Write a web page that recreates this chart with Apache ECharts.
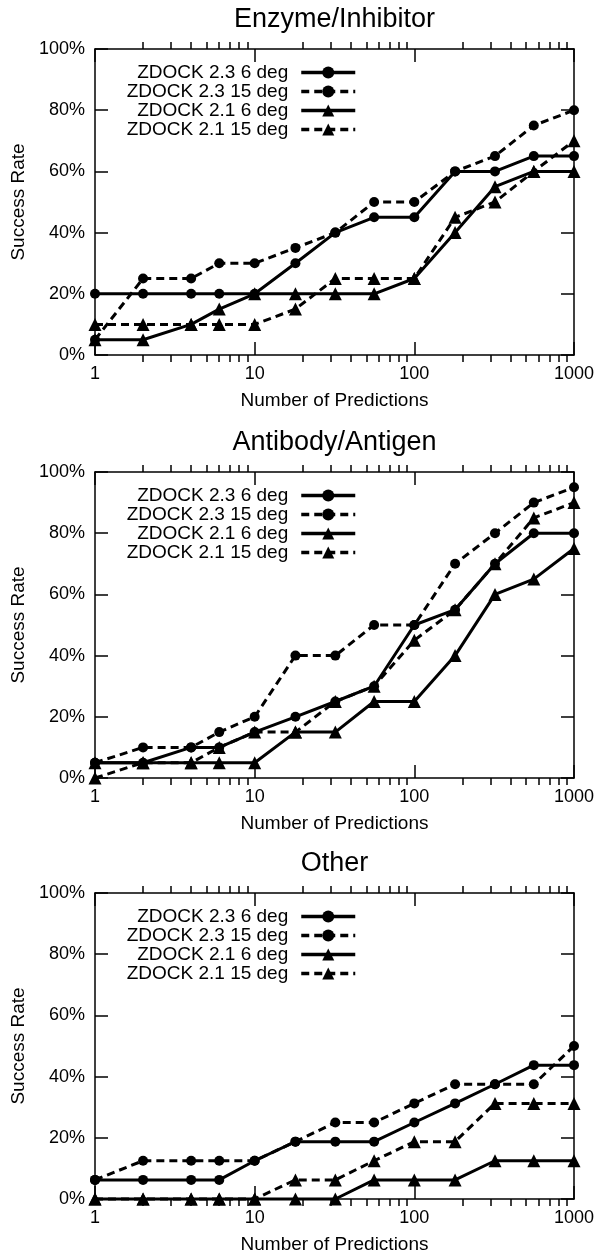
<!DOCTYPE html>
<html lang="en">
<head>
<meta charset="UTF-8">
<title>ZDOCK success rate by complex type</title>
<script src="https://cdn.jsdelivr.net/npm/echarts@6/dist/echarts.min.js"></script>
<style>
  body { margin: 0; background: #fff; }
  #chart { width: 598px; height: 1260px; }
</style>
</head>
<body>
<div id="chart"></div>
<script>
// number of predictions (log x axis)
const predictions = [1, 2, 4, 6, 10, 18, 32, 56, 100, 180, 320, 560, 1000];
const panelTitles = ['Enzyme/Inhibitor', 'Antibody/Antigen', 'Other'];
const seriesNames = ['ZDOCK 2.3 6 deg', 'ZDOCK 2.3 15 deg', 'ZDOCK 2.1 6 deg', 'ZDOCK 2.1 15 deg'];

// success rate (%) - Enzyme/Inhibitor
const enzZd23deg6 = [20, 20, 20, 20, 20, 30, 40, 45, 45, 60, 60, 65, 65];
const enzZd23deg15 = [5, 25, 25, 30, 30, 35, 40, 50, 50, 60, 65, 75, 80];
const enzZd21deg6 = [5, 5, 10, 15, 20, 20, 20, 20, 25, 40, 55, 60, 60];
const enzZd21deg15 = [10, 10, 10, 10, 10, 15, 25, 25, 25, 45, 50, 60, 70];

// Antibody/Antigen
const abZd23deg6 = [5, 5, 10, 10, 15, 20, 25, 30, 50, 55, 70, 80, 80];
const abZd23deg15 = [5, 10, 10, 15, 20, 40, 40, 50, 50, 70, 80, 90, 95];
const abZd21deg6 = [5, 5, 5, 5, 5, 15, 15, 25, 25, 40, 60, 65, 75];
const abZd21deg15 = [0, 5, 5, 10, 15, 15, 25, 30, 45, 55, 70, 85, 90];

// Other
const othZd23deg6 = [6.25, 6.25, 6.25, 6.25, 12.5, 18.75, 18.75, 18.75, 25, 31.25, 37.5, 43.75, 43.75];
const othZd23deg15 = [6.25, 12.5, 12.5, 12.5, 12.5, 18.75, 25, 25, 31.25, 37.5, 37.5, 37.5, 50];
const othZd21deg6 = [0, 0, 0, 0, 0, 0, 0, 6.25, 6.25, 6.25, 12.5, 12.5, 12.5];
const othZd21deg15 = [0, 0, 0, 0, 0, 6.25, 6.25, 12.5, 18.75, 18.75, 31.25, 31.25, 31.25];

const panelData = [
    [enzZd23deg6, enzZd23deg15, enzZd21deg6, enzZd21deg15],
    [abZd23deg6, abZd23deg15, abZd21deg6, abZd21deg15],
    [othZd23deg6, othZd23deg15, othZd21deg6, othZd21deg15]
];

const FONT = 'Liberation Sans, Arial, Helvetica, sans-serif';
const gridTops = [49, 472, 893];
const gridHeight = 306;
const gridLeft = 95;
const gridRight = 24;

const symbols = ['circle', 'circle', 'triangle', 'triangle'];
const symbolSizes = [10, 10, 13, 13];
const dashes = ['solid', [8, 5], 'solid', [8, 5]];

var chart = echarts.init(document.getElementById('chart'));

var grid = [], xAxis = [], yAxis = [], title = [], legend = [], series = [];

// major-tick log axis (no name, no minor ticks)
function logAxis(g, pos) {
    return {
        type: 'log', logBase: 10, min: 1, max: 1000, interval: 1,
        gridIndex: g, position: pos,
        axisLine: { show: true, onZero: false, lineStyle: { color: '#000', width: 1.5 } },
        axisTick: { show: true, inside: true, length: 13, lineStyle: { color: '#000', width: 1.5 } },
        axisLabel: {
            show: pos === 'bottom', fontFamily: FONT, fontSize: 18, color: '#000', margin: 10,
            formatter: function (v) { return String(Math.round(v)); }
        },
        splitLine: { show: false }
    };
}

// minor log ticks only (2..9 in each decade)
function minorLogAxis(g, pos) {
    return {
        type: 'log', logBase: 10, min: 1, max: 1000, interval: 1,
        gridIndex: g, position: pos,
        axisLine: { show: false, onZero: false },
        axisTick: { show: false },
        minorTick: { show: true, splitNumber: 9, length: 7, lineStyle: { color: '#000', width: 1.5 } },
        axisLabel: { show: false },
        splitLine: { show: false },
        minorSplitLine: { show: false }
    };
}

function pctAxis(g, pos) {
    return {
        type: 'value', min: 0, max: 100, interval: 20,
        gridIndex: g, position: pos,
        axisLine: { show: true, onZero: false, lineStyle: { color: '#000', width: 1.5 } },
        axisTick: { show: true, inside: true, length: 13, lineStyle: { color: '#000', width: 1.5 } },
        axisLabel: { show: pos === 'left', fontFamily: FONT, fontSize: 18, color: '#000', margin: 10, formatter: '{value}%' },
        splitLine: { show: false }
    };
}

function hiddenPctAxis(g) {
    return { type: 'value', min: 0, max: 100, gridIndex: g, show: false };
}

panelTitles.forEach(function (name, p) {
    var top = gridTops[p];
    var g = 5 * p;   // data grid: bottom + left axes
    for (var k = 0; k < 5; k++) {
        grid.push({ left: gridLeft, right: gridRight, top: top, height: gridHeight });
    }

    title.push({
        text: name,
        left: gridLeft + (598 - gridLeft - gridRight) / 2,
        textAlign: 'center',
        top: top - 43,
        padding: 0,
        textStyle: { fontFamily: FONT, fontSize: 27, fontWeight: 'normal', color: '#000' }
    });

    // g: labelled axes, g+1: mirrored top/right, g+2: axis names, g+3/g+4: minor ticks
    xAxis.push(logAxis(g, 'bottom'), logAxis(g + 1, 'top'));
    yAxis.push(pctAxis(g, 'left'), pctAxis(g + 1, 'right'));

    xAxis.push({
        type: 'log', logBase: 10, min: 1, max: 1000, gridIndex: g + 2, position: 'bottom',
        name: 'Number of Predictions', nameLocation: 'middle', nameGap: 36,
        nameTextStyle: { fontFamily: FONT, fontSize: 19, color: '#000' },
        axisLine: { show: false, onZero: false }, axisTick: { show: false },
        axisLabel: { show: false }, splitLine: { show: false }
    });
    yAxis.push({
        type: 'value', min: 0, max: 100, gridIndex: g + 2, position: 'left',
        name: 'Success Rate', nameLocation: 'middle', nameGap: 67,
        nameTextStyle: { fontFamily: FONT, fontSize: 19, color: '#000' },
        axisLine: { show: false, onZero: false }, axisTick: { show: false },
        axisLabel: { show: false }, splitLine: { show: false }
    });

    xAxis.push(minorLogAxis(g + 3, 'bottom'), minorLogAxis(g + 4, 'top'));
    yAxis.push(hiddenPctAxis(g + 3), hiddenPctAxis(g + 4));

    legend.push({
        data: seriesNames,
        orient: 'vertical',
        align: 'right',
        right: 241,
        top: top + 14,
        padding: 0,
        itemGap: 0,
        itemWidth: 54,
        itemHeight: 15,
        selectedMode: false,
        lineStyle: { width: 3.5 },
        textStyle: { fontFamily: FONT, fontSize: 19, lineHeight: 19, color: '#000', padding: [0, 8, 0, 0] }
    });

    seriesNames.forEach(function (sName, s) {
        series.push({
            name: sName,
            type: 'line',
            xAxisIndex: g,
            yAxisIndex: g,
            symbol: symbols[s],
            symbolSize: symbolSizes[s],
            showAllSymbol: true,
            clip: false,
            lineStyle: { color: '#000', width: 3, type: dashes[s] },
            itemStyle: { color: '#000' },
            data: predictions.map(function (x, i) { return [x, panelData[p][s][i]]; })
        });
    });
});

var option = {
    animation: false,
    backgroundColor: '#fff',
    title: title,
    legend: legend,
    grid: grid,
    xAxis: xAxis,
    yAxis: yAxis,
    series: series
};
chart.setOption(option);
</script>
</body>
</html>
